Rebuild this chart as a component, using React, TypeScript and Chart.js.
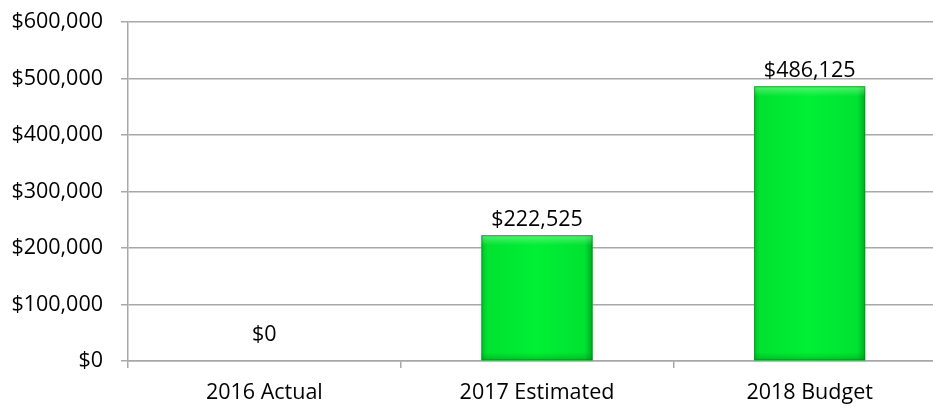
import React, { useEffect, useRef } from "react";
import { Chart, registerables } from "chart.js";

Chart.register(...registerables);

const categories = ["2016 Actual", "2017 Estimated", "2018 Budget"];
const values = [0, 222525, 486125];
const yMin = 0;
const yMax = 600000;
const yStep = 100000;

const fmt = (v: number) =>
  "$" + String(Math.round(v)).replace(/\B(?=(\d{3})+(?!\d))/g, ",");

const FONT = "'Open Sans', sans-serif";
const GRID = "#a8a8a8";

const barStyle = {
  id: "barStyle",
  afterDatasetsDraw(chart: any) {
    const ctx = chart.ctx;
    const meta = chart.getDatasetMeta(0);
    meta.data.forEach((bar: any, i: number) => {
      const { x, y, base, width } = bar.getProps(["x", "y", "base", "width"], true);
      const left = x - width / 2;
      const right = x + width / 2;
      const h = base - y;
      if (h >= 1) {
        ctx.save();
        const hg = ctx.createLinearGradient(left, 0, right, 0);
        hg.addColorStop(0, "#00c428");
        hg.addColorStop(0.05, "#00e230");
        hg.addColorStop(0.5, "#00f035");
        hg.addColorStop(0.93, "#00e231");
        hg.addColorStop(1, "#00ad20");
        ctx.fillStyle = hg;
        ctx.fillRect(left, y, width, h);
        const tg = ctx.createLinearGradient(0, y, 0, y + 10);
        tg.addColorStop(0, "rgba(150,255,160,0.55)");
        tg.addColorStop(1, "rgba(150,255,160,0)");
        ctx.fillStyle = tg;
        ctx.fillRect(left, y, width, Math.min(10, h));
        const bg = ctx.createLinearGradient(0, base - 8, 0, base);
        bg.addColorStop(0, "rgba(0,110,20,0)");
        bg.addColorStop(1, "rgba(0,110,20,0.35)");
        ctx.fillStyle = bg;
        ctx.fillRect(left, base - Math.min(8, h), width, Math.min(8, h));
        ctx.strokeStyle = "rgba(0,130,30,0.55)";
        ctx.lineWidth = 1;
        ctx.strokeRect(left + 0.5, y + 0.5, width - 1, h - 1);
        ctx.restore();
      }
      ctx.save();
      ctx.font = `21.5px ${FONT}`;
      ctx.fillStyle = "#000";
      ctx.textAlign = "center";
      ctx.textBaseline = "alphabetic";
      const off = h < 1 ? 20 : 9;
      ctx.fillText(fmt(values[i]), x, y - off);
      ctx.restore();
    });
  },
};

export default function App() {
  const ref = useRef<HTMLCanvasElement | null>(null);
  useEffect(() => {
    if (!ref.current) return;
    const chart = new Chart(ref.current, {
      type: "bar",
      data: {
        labels: categories,
        datasets: [
          {
            data: values,
            backgroundColor: "#00e52f",
            borderWidth: 0,
            barPercentage: 0.407,
            categoryPercentage: 1,
          },
        ],
      },
      options: {
        animation: false,
        responsive: true,
        maintainAspectRatio: false,
        layout: { padding: { top: 22, right: 0, bottom: 0, left: 0 } },
        plugins: { legend: { display: false }, tooltip: { enabled: false } },
        scales: {
          x: {
            grid: {
              display: true,
              drawOnChartArea: false,
              drawTicks: true,
              tickLength: 7,
              color: GRID,
              lineWidth: 1.5,
              offset: true,
            },
            border: { display: true, color: GRID, width: 1.5 },
            ticks: { color: "#000", font: { family: FONT, size: 21.5 }, padding: 12, maxRotation: 0 },
            afterFit(s: any) {
              s.height = 45;
              s.paddingLeft = 0;
              s.paddingRight = 0;
            },
          },
          y: {
            min: yMin,
            max: yMax,
            grid: { color: GRID, lineWidth: 1.5, tickLength: 7, drawTicks: true },
            border: { display: true, color: GRID, width: 1.5 },
            ticks: {
              stepSize: yStep,
              color: "#000",
              font: { family: FONT, size: 21.5 },
              padding: 18,
              callback: (v: any) => fmt(Number(v)),
            },
            afterFit(s: any) {
              s.width = 128;
              s.paddingTop = 0;
              s.paddingBottom = 0;
            },
          },
        },
      },
      plugins: [barStyle],
    });
    return () => chart.destroy();
  }, []);

  return (
    <div
      style={{
        position: "absolute",
        left: 0,
        top: 0,
        width: 933,
        height: 406,
        overflow: "hidden",
        background: "#fff",
      }}
    >
      <div style={{ position: "relative", width: 946, height: 406 }}>
        <canvas ref={ref} />
      </div>
    </div>
  );
}
